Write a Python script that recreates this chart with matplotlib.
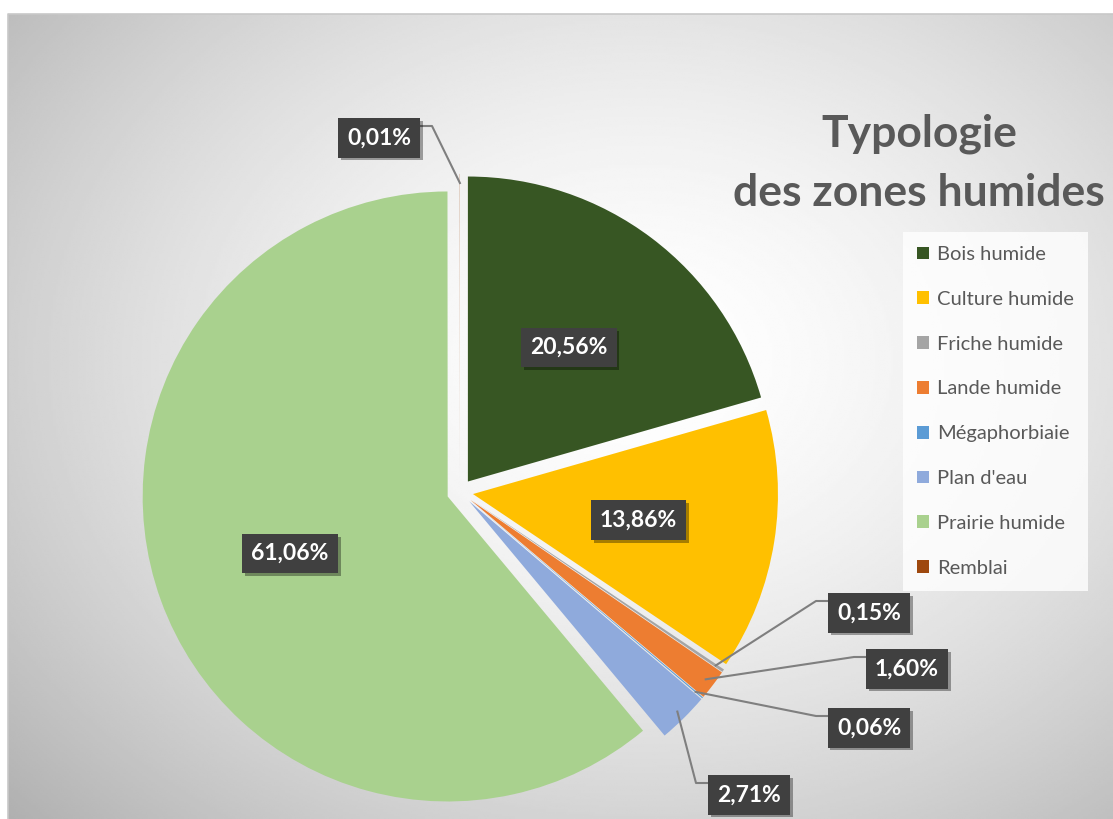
import numpy as np
import matplotlib.pyplot as plt
import matplotlib.patheffects as pe
from matplotlib.patches import Patch

categories = ["Bois humide", "Culture humide", "Friche humide", "Lande humide",
              "Mégaphorbiaie", "Plan d'eau", "Prairie humide", "Remblai"]
shares = [20.56, 13.86, 0.15, 1.60, 0.06, 2.71, 61.06, 0.01]
colors = ["#375623", "#ffc000", "#a5a5a5", "#ed7d31",
          "#5b9bd5", "#8faadc", "#a9d18e", "#9e480e"]

W, H = 1113, 819
CX, CY, R = 460, 492, 305   # pie centre and radius, pixels


def px(x, y):
    # pixel position (from top-left) -> data coords
    return (x - CX) / R, (CY - y) / R


plt.rcParams['font.family'] = ['Lato', 'DejaVu Sans']

fig = plt.figure(figsize=(W / 100, H / 100), dpi=100)
fig.patch.set_facecolor('white')
ax = fig.add_axes([0, 0, 1, 1])
ax.set_axis_off()

# radial grey background of the chart area
x0, y0 = 8, 14
gx, gy = np.meshgrid(np.linspace(x0, W, 500), np.linspace(y0, H, 380))
d = np.hypot((gx - 640) / 700, (gy - 360) / 540)
g = 1 - 0.22 * np.clip(d, 0, 1.4) ** 1.6
ax.imshow(g, cmap='gray', vmin=0, vmax=1, interpolation='bilinear',
          extent=((x0 - CX) / R, (W - CX) / R, (CY - H) / R, (CY - y0) / R), zorder=0)
ax.plot(*zip(px(x0, H), px(x0, y0), px(W, y0)), color='#c8c8c8', lw=1.2, zorder=0.5)

wedges, _ = ax.pie(shares, colors=colors, startangle=90, counterclock=False,
                   explode=[0.043] * len(shares), wedgeprops=dict(linewidth=0))
for w in wedges:
    w.set_zorder(2)

box = dict(boxstyle='square,pad=0.4', fc='#404040', ec='none')
shadow = [pe.withSimplePatchShadow(offset=(2, -2), shadow_rgbFace='black', alpha=0.35)]


def lab(v):
    return f"{v:.2f}%".replace('.', ',')


def put_label(x, y, v):
    t = ax.text(x, y, lab(v), ha='center', va='center', color='white',
                fontsize=16.5, fontweight='bold', bbox=box, zorder=5)
    t.get_bbox_patch().set_path_effects(shadow)


# labels inside the big slices
for i in (0, 1, 6):
    w = wedges[i]
    a = np.deg2rad((w.theta1 + w.theta2) / 2)
    put_label(w.center[0] + 0.55 * np.cos(a), w.center[1] + 0.55 * np.sin(a), shares[i])

# labels outside with leader lines: box centre (px), side where the line attaches
outer = {7: (379, 138, 'right'), 2: (869, 613, 'left'), 3: (907, 669, 'left'),
         4: (869, 728, 'left'), 5: (749, 795, 'left')}
half_w, half_h = 41, 20
for i, (bx, by, side) in outer.items():
    w = wedges[i]
    a = np.deg2rad((w.theta1 + w.theta2) / 2)
    anchor = (w.center[0] + 0.97 * np.cos(a), w.center[1] + 0.97 * np.sin(a))
    ly = by - half_h + 8
    if side == 'left':
        edge = bx - half_w
        elbow = px(edge - 12, ly)
    else:
        edge = bx + half_w
        elbow = px(edge + 12, ly)
    xs, ys = zip(anchor, elbow, px(edge, ly))
    ax.plot(xs, ys, color='#7f7f7f', lw=1.5, zorder=3)
    put_label(*px(bx, by), shares[i])

ax.set_xlim(px(0, 0)[0], px(W, 0)[0])
ax.set_ylim(px(0, H)[1], px(0, 0)[1])
ax.set_aspect('auto')

fig.text(919 / W, 1 - 114 / H, "Typologie\ndes zones humides", ha='center', va='top',
         fontsize=32, fontweight='bold', color='#595959', linespacing=1.55)

handles = [Patch(facecolor=c, edgecolor='none', label=l) for c, l in zip(colors, categories)]
leg = fig.legend(handles=handles, loc='upper left', bbox_to_anchor=(903 / W, 1 - 232 / H),
                 fontsize=14.5, frameon=True, fancybox=False, borderaxespad=0,
                 borderpad=0.7, labelspacing=1.38, handlelength=0.6, handleheight=0.6,
                 handletextpad=0.4, labelcolor='#595959')
leg.get_frame().set_facecolor((1, 1, 1, 0.1))
leg.get_frame().set_edgecolor('none')

fig.savefig("out.png", dpi=100)
